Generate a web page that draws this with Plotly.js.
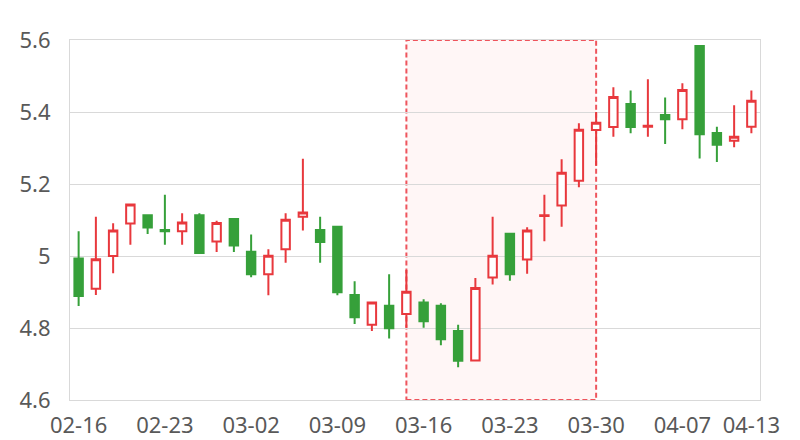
<!DOCTYPE html>
<html>
<head>
<meta charset="utf-8">
<script src="https://cdn.plot.ly/plotly-3.0.1.min.js"></script>
<style>html,body{margin:0;padding:0;background:#fff;}#chart{width:800px;height:440px;}</style>
</head>
<body>
<div id="chart"></div>
<script>
const dates = ["02-16","02-17","02-18","02-19","02-20","02-23","02-24","02-25","02-26","02-27",
  "03-02","03-03","03-04","03-05","03-06","03-09","03-10","03-11","03-12","03-13",
  "03-16","03-17","03-18","03-19","03-20","03-23","03-24","03-25","03-26","03-27",
  "03-30","03-31","04-01","04-02","04-03","04-07","04-08","04-09","04-10","04-13"];
const openV  = [4.993,4.909,5.000,5.090,5.113,5.072,5.069,5.113,5.040,5.103,
  5.012,4.949,5.019,5.109,5.072,5.081,4.892,4.809,4.862,4.839,
  4.871,4.862,4.792,4.710,4.940,5.062,4.990,5.111,5.140,5.209,
  5.350,5.358,5.422,5.359,5.392,5.380,5.583,5.342,5.320,5.359];
const highV  = [5.069,5.109,5.091,5.143,5.113,5.170,5.119,5.119,5.098,5.103,
  5.060,5.019,5.119,5.270,5.109,5.081,4.930,4.871,4.949,4.961,
  4.880,4.869,4.809,4.939,5.109,5.062,5.080,5.170,5.269,5.369,
  5.400,5.469,5.460,5.491,5.440,5.480,5.583,5.359,5.419,5.460];
const lowV   = [4.861,4.892,4.952,5.031,5.061,5.031,5.031,5.008,5.011,5.011,
  4.941,4.891,4.981,5.071,4.981,4.891,4.811,4.792,4.771,4.801,
  4.801,4.752,4.691,4.710,4.921,4.931,4.951,5.041,5.081,5.191,
  5.251,5.331,5.341,5.331,5.311,5.352,5.271,5.261,5.302,5.341];
const closeV = [4.889,4.991,5.071,5.143,5.079,5.069,5.093,5.008,5.092,5.029,
  4.949,5.001,5.101,5.121,5.039,4.899,4.830,4.871,4.799,4.901,
  4.819,4.769,4.709,4.911,5.001,4.949,5.071,5.113,5.231,5.351,
  5.370,5.442,5.358,5.362,5.380,5.461,5.338,5.309,5.331,5.431];
const tickIdx = [0,5,10,15,20,25,30,35,39];
const yTicks = [4.6,4.8,5.0,5.2,5.4,5.6];
const highlightStart = "03-13";
const highlightEnd = "03-30";

const red = '#e8383d', green = '#36a03a';
const trace = {
  type: 'candlestick',
  x: dates, open: openV, high: highV, low: lowV, close: closeV,
  increasing: {line: {color: red, width: 2}, fillcolor: '#ffffff'},
  decreasing: {line: {color: green, width: 2}, fillcolor: green},
  whiskerwidth: 0,
  hoverinfo: 'skip',
  showlegend: false
};
const font = {family: '"Noto Sans", "Open Sans", sans-serif', size: 22, color: '#595959'};
const layout = {
  width: 800, height: 440,
  margin: {l: 70, r: 40, t: 40, b: 40},
  paper_bgcolor: '#ffffff', plot_bgcolor: '#ffffff',
  font: font,
  showlegend: false,
  xaxis: {
    type: 'category',
    rangeslider: {visible: false},
    tickvals: tickIdx.map(i => dates[i]),
    ticktext: tickIdx.map(i => dates[i]),
    showgrid: false, showline: true, linecolor: '#d9d9d9', linewidth: 1, mirror: true,
    ticks: 'outside', ticklen: 6, tickcolor: 'rgba(0,0,0,0)',
    tickangle: 0,
    tickfont: font, fixedrange: true
  },
  yaxis: {
    range: [4.6, 5.6], tickvals: yTicks, ticktext: yTicks.map(v => String(+v.toFixed(1))),
    showgrid: true, gridcolor: '#d9d9d9', gridwidth: 1,
    showline: true, linecolor: '#d9d9d9', mirror: true, zeroline: false,
    ticks: 'outside', ticklen: 14, tickcolor: 'rgba(0,0,0,0)',
    tickfont: font, fixedrange: true
  },
  shapes: [{
    type: 'rect', xref: 'x', yref: 'paper', layer: 'below',
    x0: highlightStart, x1: highlightEnd, y0: 0, y1: 1,
    fillcolor: 'rgba(255,0,0,0.035)',
    line: {color: 'rgba(235,55,65,0.85)', width: 2, dash: '5px,3px'}
  }]
};
Plotly.newPlot('chart', [trace], layout, {staticPlot: true, displayModeBar: false});
</script>
</body>
</html>
